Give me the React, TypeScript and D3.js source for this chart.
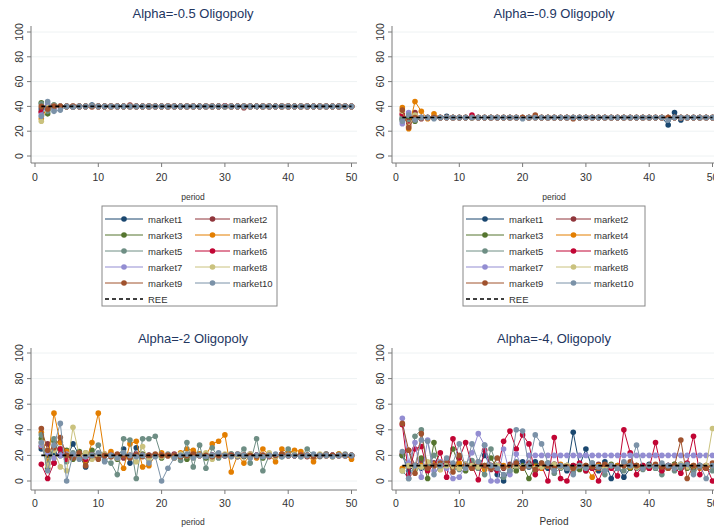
import React from "react";
import * as d3 from "d3";

// Stata s2color palette, one colour per market
const marketColors = [
  "#1a476f", "#90353b", "#55752f", "#e37e00", "#6e8e84",
  "#c10534", "#938dd2", "#cac27e", "#a0522d", "#7b92a8",
];
const marketNames = [
  "market1", "market2", "market3", "market4", "market5",
  "market6", "market7", "market8", "market9", "market10",
];
const periods = d3.range(1, 51);
const yTicks = [0, 20, 40, 60, 80, 100];
const xTicks = [0, 10, 20, 30, 40, 50];

// ---- Alpha = -0.5 ----
const a05_m1 = [38,39,40,40,40,39.5,40,40,41,40, 40,40,40,40,40,40,40,40,40,40, 40,40,40,40,40,40,40,40,40,40, 40,40,40,40,40,40,40,40,40,40, 40,40,40,40,40,40,40,40,40,40];
const a05_m2 = [36,41,39,40,40,40,40,40,40,40, 40,40,40,40,41,40,40,40,40,40, 40,40,40,40,40,40,40,40,40,40, 40,40,39,40,40,40,40,40,40,40, 40,40,40,40,40,40,40,40,40,40];
const a05_m3 = [43,34,41,40,40,40,40,40,40.5,40, 40,40,40,40,40,40,40,40,40,40, 40,40,40,40,40,40,40,40,40,40, 40,40,40,40,40,40,40,40,40,40, 40,40,40,40,40,40,40,40,40,40];
const a05_m4 = [30,40,39,40,40,40,40,40,40,40, 40,40,40,40,40,40,40,40,40,40, 40,40,40,40,40,40,40,40,40,40, 40,40,40,40,40,40,40,40,40,40, 40,40,40,40,40,40,40,40,40,40];
const a05_m5 = [42,36,41,40,40,40,40,40,40,40, 40,40,40,40,40,40,40,40,40,40, 40,40,40,40,40,40,40,40,40,40, 40,40,40,40,40,40,40,40,40,40, 40,40,40,40,40,40,40,40,40,40];
const a05_m6 = [35,40,40,40,40,40,40,40,40,40, 40,40,40,40,40,40,40,40,40,40, 40,40,40,40,40,40,40,40,40,40.5, 40,40,40,40,40,40,40,40,40,40, 40,40,40,40,40,40,40,40,40,40];
const a05_m7 = [33,42,38,40,40,40,40,40,40,40, 40,40,40,40,40,40,40,40,40,40, 40,40,40,40,40,40,40,40,40,40, 40,40,40,40,40,40,40,40,40,40, 40,40,40,40,40,40,40,40,40,40];
const a05_m8 = [28,39,40,40,40,40,40,40,40,40, 40,40,40,40,40,40,40,40,40,40, 40,40,40,40,40,40,40,40,40,40, 40,40,40,40,40,40,40,40,40,40, 40,40,40,40,40,40,40,40,40,40];
const a05_m9 = [40,38,40,40,40,40,40,40,40,40, 40,40,40,40,40,40,40,40,40,40, 40,40,40,40,40,40,40,40,40,40, 40,40,40,40,40,40,40,40,40,40, 40,40,40,40,40,40,40,40,40,40];
const a05_m10 = [32,44,36,37,40,39.5,40,40,40.5,40, 40,40,40,40,40,40,40,40,40,40, 40,40,40,40,40,40,40,40,40,40, 40,40,40,40,40,40,40,40,40,40, 40,40,40,40,40,40,40,40,40,40];
const a05_ree = 40;

// ---- Alpha = -0.9 ----
const a09_m1 = [30,28,31,31,31,31,31,32,31,31, 31,31,31,31,31,31,31,31,31,31, 31,31,31,31,31,31,31,31,31,31, 31,31,31,31,31,31,31,31,31,31, 31,31,25,35,29,31,31,31,31,31];
const a09_m2 = [33,30,35,30,31,31,31,31,31,31, 31,31,31,31,31,31,31,31,31,31, 31,31,31,31,31,31,31,31,31,31, 31,31,31,31,31,31,31,31,31,31, 31,31,31,31,31,31,31,31,31,31];
const a09_m3 = [29,32,28,31,31,31,31,31,31,31, 31,31,31,31,31,31,31,31,31,31, 31,31,31,31,31,31,31,31,31,31, 31,31,31,31,31,31,31,31,31,31, 31,31,31,31,31,31,31,31,31,31];
const a09_m4 = [39,22,44,36,30,34,31,31,31,31, 31,31,31,31,31,31,31,31,31,31, 31,31,31,31,31,31,31,31,31,31, 31,31,31,31,31,31,31,31,31,31, 31,31,31,31,31,31,31,31,31,31];
const a09_m5 = [31,27,30,31,31,31,31,31,31,31, 31,31,31,31,31,31,31,31,31,31, 31,31,31,31,31,31,31,31,31,31, 31,31,31,31,31,31,31,31,31,31, 31,31,31,31,31,31,31,31,31,31];
const a09_m6 = [34,25,32,31,31,31,31,31,31,31, 31,33,31,31,31,31,31,31,31,31, 31,31,31,31,31,31,31,31,31,31, 31,31,31,31,31,31,31,31,31,31, 31,31,31,31,31,31,31,31,31,31];
const a09_m7 = [26,35,30,31,31,31,31,31,31,31, 31,31,31,31,31,31,31,31,31,31, 31,31,31,31,31,31,31,31,31,31, 31,31,31,31,31,31,31,31,31,31, 31,31,31,31,31,31,31,31,31,31];
const a09_m8 = [36,24,33,31,31,31,31,31,31,31, 31,31,31,31,31,31,31,31,31,31, 31,31,31,31,31,31,31,31,31,31, 31,31,31,31,31,31,31,31,31,31, 31,31,31,31,31,31,31,31,31,31];
const a09_m9 = [37,23,31,31,31,31,31,31,31,31, 31,31,31,31,31,31,31,31,31,31, 31,33,31,31,31,31,31,30,31,31, 31,31,31,31,31,31,31,31,31,31, 31,31,31,31,31,31,31,31,31,31];
const a09_m10 = [28,33,29,31,31,30,31,31,31,31, 31,31,31,31,31,31,31,31,31,30, 31,31,31,31,31,31,31,31,31,31, 31,31,31,31,31,31,31,31,31,31, 31,31,29,31,31,31,31,31,31,31];
const a09_ree = 31;

// ---- Alpha = -2 ----
const a2_m1 = [25,20,22,20,18,29,20,11,20,20, 20,20,20,25,14,26,20,20,20,20, 20,20,20,20,20,20,20,20,20,20, 20,20,20,20,20,20,20,20,20,20, 20,20,20,20,20,20,20,20,20,20];
const a2_m2 = [27,29,14,25,20,18,22,20,18,20, 21,19,20,18,20,21,20,19,20,20, 20,21,19,20,22,20,19,20,21,20, 20,19,20,21,20,20,19,20,21,20, 20,20,19,20,20,21,20,20,20,19];
const a2_m3 = [33,10,31,20,24,17,23,20,24,18, 20,21,17,20,19,20,21,19,20,18, 20,19,20,17,20,21,18,20,19,20, 21,20,19,20,20,18,21,20,19,20, 20,21,20,19,20,20,20,21,20,20];
const a2_m4 = [38,15,53,30,23,20,18,15,30,53, 20,23,18,10,29,31,11,12,20,22, 20,18,22,25,24,21,20,29,31,36, 7,20,14,20,18,25,20,15,25,22, 24,23,20,15,20,20,19,21,20,17];
const a2_m5 = [36,13,33,24,15,22,18,22,20,28, 16,14,5,33,32,2,33,33,35,19, 21,20,16,30,11,28,10,26,18,20, 21,19,25,14,33,8,20,19,20,25, 20,19,25,20,19,21,20,20,21,20];
const a2_m6 = [13,2,14,25,17,20,19,17,20,20, 20,20,20,20,20,20,20,20,20,20, 20,20,20,20,20,20,20,20,20,20, 20,20,20,20,20,20,20,20,20,20, 20,20,20,20,20,20,20,20,20,20];
const a2_m7 = [28,22,18,20,21,20,20,19,20,20, 20,20,20,20,20,20,20,20,20,20, 20,20,20,20,20,20,20,20,20,20, 20,20,20,20,20,20,20,20,20,20, 20,20,20,20,20,20,20,20,20,20];
const a2_m8 = [30,12,24,11,8,42,20,22,17,20, 21,19,18,22,20,15,27,16,20,19, 20,19,21,20,18,20,22,17,20,21, 19,20,20,21,19,20,22,19,20,20, 21,19,20,20,21,20,19,20,20,20];
const a2_m9 = [41,24,26,34,20,18,22,12,20,17, 20,19,21,20,18,20,19,20,21,20, 20,20,19,20,21,20,20,19,20,20, 20,21,20,20,19,20,20,20,21,20, 20,20,20,19,20,20,20,20,20,20];
const a2_m10 = [30,8,28,45,0,21,17,19,20,22, 15,20,18,22,20,19,20,14,19,0, 10,18,20,21,18,20,19,20,22,20, 19,21,20,18,20,19,20,21,19,20, 20,19,20,21,20,20,19,20,20,20];
const a2_ree = 20;

// ---- Alpha = -4 ----
const a4_m1 = [20,8,12,10,11,14,12,15,10,12, 13,12,11,20,12,5,0,10,12,15, 11,15,12,10,13,11,8,38,12,25, 10,8,15,2,12,3,10,12,11,13, 12,10,12,11,13,12,11,12,10,12];
const a4_m2 = [21,24,12,16,10,14,11,16,13,10, 12,10,13,11,9,12,10,13,12,11, 14,12,10,12,13,11,12,10,12,11, 12,13,11,12,10,13,12,11,12,10, 12,11,12,13,11,12,10,12,11,12];
const a4_m3 = [20,13,9,18,2,30,10,12,25,12, 8,14,10,12,18,10,11,12,8,12, 2,12,10,14,12,11,10,12,9,12, 11,10,12,13,11,14,10,12,11,12, 10,12,11,13,12,10,11,12,12,11];
const a4_m4 = [10,12,11,12,10,13,9,12,11,14, 10,12,11,9,12,10,12,11,13,10, 12,11,10,12,11,13,12,10,12,11, 3,12,10,11,12,13,11,12,10,12, 11,12,10,12,11,13,12,10,12,11];
const a4_m5 = [8,2,35,40,10,20,12,14,10,9, 12,16,10,5,25,12,3,8,15,10, 12,8,14,12,6,10,12,7,12,8, 14,10,5,12,10,8,12,10,9,12, 10,5,12,8,10,12,7,12,10,8];
const a4_m6 = [44,5,25,27,8,12,22,3,33,18, 30,12,1,24,12,8,31,39,25,36, 29,5,12,0,34,2,0,12,14,8, 10,0,12,10,4,40,22,5,12,10, 30,8,12,10,6,14,35,5,12,0];
const a4_m7 = [49,14,30,3,32,8,15,10,2,3, 12,22,37,28,0,0,25,5,21,10, 20,20,20,20,20,20,20,20,20,20, 20,20,20,20,20,20,20,20,20,20, 20,20,20,20,20,20,20,20,20,20];
const a4_m8 = [8,12,10,11,15,12,9,12,11,10, 13,12,11,12,10,12,11,10,12,11, 12,10,11,12,13,11,12,10,12,11, 12,11,10,12,11,13,12,11,10,12, 11,12,10,12,13,11,12,11,12,41];
const a4_m9 = [45,24,6,37,10,12,14,16,7,20, 12,10,15,12,10,18,11,12,14,10, 12,9,14,12,10,12,11,10,12,12, 11,10,13,12,11,12,15,12,10,12, 13,11,10,12,32,2,12,11,10,14];
const a4_m10 = [23,2,12,32,31,5,12,18,14,29, 10,29,15,28,12,10,5,8,40,39, 12,36,29,14,8,12,10,5,12,10, 14,11,8,12,10,15,12,28,10,12, 11,14,12,10,12,13,5,12,2,12];
const a4_ree = 12;

type Panel = {
  title: string;
  xTitle: string;
  series: number[][];
  ree: number;
  col: number;
  row: number;
};

const panels: Panel[] = [
  { title: "Alpha=-0.5 Oligopoly", xTitle: "period", ree: a05_ree, col: 0, row: 0,
    series: [a05_m1, a05_m2, a05_m3, a05_m4, a05_m5, a05_m6, a05_m7, a05_m8, a05_m9, a05_m10] },
  { title: "Alpha=-0.9 Oligopoly", xTitle: "period", ree: a09_ree, col: 1, row: 0,
    series: [a09_m1, a09_m2, a09_m3, a09_m4, a09_m5, a09_m6, a09_m7, a09_m8, a09_m9, a09_m10] },
  { title: "Alpha=-2 Oligopoly", xTitle: "period", ree: a2_ree, col: 0, row: 1,
    series: [a2_m1, a2_m2, a2_m3, a2_m4, a2_m5, a2_m6, a2_m7, a2_m8, a2_m9, a2_m10] },
  { title: "Alpha=-4, Oligopoly", xTitle: "Period", ree: a4_ree, col: 1, row: 1,
    series: [a4_m1, a4_m2, a4_m3, a4_m4, a4_m5, a4_m6, a4_m7, a4_m8, a4_m9, a4_m10] },
];

// layout of each grid row
const rows = [
  { y0: 156, y100: 32, axisY: 163, axisTop: 26, tickLabY: 181, xTitleY: 200, titleY: 18 },
  { y0: 481, y100: 353, axisY: 490, axisTop: 348, tickLabY: 507, xTitleY: 525, titleY: 343 },
];
const colOffset = 361;
const FONT = "'Liberation Sans', Arial, sans-serif";

function PanelView({ p }: { p: Panel }) {
  const r = rows[p.row];
  const dx = p.col * colOffset;
  const x = d3.scaleLinear().domain([0, 50]).range([35 + dx, 351.5 + dx]);
  const y = d3.scaleLinear().domain([0, 100]).range([r.y0, r.y100]);
  const line = d3.line<number>().x((_, i) => x(periods[i])).y((v) => y(v));
  const axisX = 31 + dx;
  return (
    <g>
      <text x={193 + dx} y={r.titleY} textAnchor="middle" fontSize={13} fill="#23365f" fontFamily={FONT}>
        {p.title}
      </text>
      {yTicks.map((t) => (
        <line key={"g" + t} x1={axisX} x2={357 + dx} y1={y(t)} y2={y(t)} stroke="#eef2f3" strokeWidth={1} />
      ))}
      {/* markets */}
      {p.series.map((s, k) => (
        <g key={k}>
          <path d={line(s) || ""} fill="none" stroke={marketColors[k]} strokeWidth={1} />
          {s.map((v, i) => (
            <circle key={i} cx={x(periods[i])} cy={y(v)} r={2.8} fill={marketColors[k]} />
          ))}
        </g>
      ))}
      {/* rational expectations equilibrium */}
      <line x1={x(1)} x2={x(50)} y1={y(p.ree)} y2={y(p.ree)} stroke="#000" strokeWidth={1.6} strokeDasharray="4,3" />
      {/* axes */}
      <line x1={axisX} x2={axisX} y1={r.axisTop} y2={r.axisY} stroke="#7a7a7a" strokeWidth={1} />
      <line x1={axisX} x2={357 + dx} y1={r.axisY} y2={r.axisY} stroke="#7a7a7a" strokeWidth={1} />
      {yTicks.map((t) => (
        <g key={"y" + t}>
          <line x1={axisX - 4} x2={axisX} y1={y(t)} y2={y(t)} stroke="#7a7a7a" />
          <text transform={`translate(${23 + dx},${y(t)}) rotate(-90)`} textAnchor="middle" fontSize={10.5} fill="#333" fontFamily={FONT}>
            {t}
          </text>
        </g>
      ))}
      {xTicks.map((t) => (
        <g key={"x" + t}>
          <line x1={x(t)} x2={x(t)} y1={r.axisY} y2={r.axisY + 4} stroke="#7a7a7a" />
          <text x={x(t)} y={r.tickLabY} textAnchor="middle" fontSize={10.5} fill="#333" fontFamily={FONT}>
            {t}
          </text>
        </g>
      ))}
      <text x={193 + dx} y={r.xTitleY} textAnchor="middle" fontSize={p.xTitle === "Period" ? 10 : 8.5} fill="#333" fontFamily={FONT}>
        {p.xTitle}
      </text>
    </g>
  );
}

function Legend({ left, right }: { left: number; right: number }) {
  const top = 206;
  const rowY = (i: number) => 219 + i * 16;
  const cols = [
    { l1: left + 3, l2: left + 41, text: left + 46 },
    { l1: left + 93, l2: left + 128, text: left + 131 },
  ];
  return (
    <g fontFamily={FONT} fontSize={9.5} fill="#333">
      <rect x={left} y={top} width={right - left} height={100} fill="#fff" stroke="#888" strokeWidth={1} />
      {marketNames.map((n, k) => {
        const c = cols[k % 2];
        const yy = rowY(Math.floor(k / 2));
        return (
          <g key={n}>
            <line x1={c.l1} x2={c.l2} y1={yy} y2={yy} stroke={marketColors[k]} strokeWidth={1} />
            <circle cx={(c.l1 + c.l2) / 2} cy={yy} r={2.8} fill={marketColors[k]} />
            <text x={c.text} y={yy + 3.5}>{n}</text>
          </g>
        );
      })}
      <line x1={cols[0].l1} x2={cols[0].l2} y1={rowY(5)} y2={rowY(5)} stroke="#000" strokeWidth={1.6} strokeDasharray="4,3" />
      <text x={cols[0].text} y={rowY(5) + 3.5}>REE</text>
    </g>
  );
}

export default function App() {
  return (
    <svg width={714} height={531} style={{ position: "absolute", left: 0, top: 0, background: "#fff" }}>
      <rect width={714} height={531} fill="#fff" />
      {panels.map((p, i) => (
        <PanelView key={i} p={p} />
      ))}
      <Legend left={102} right={277} />
      <Legend left={463} right={645} />
    </svg>
  );
}
